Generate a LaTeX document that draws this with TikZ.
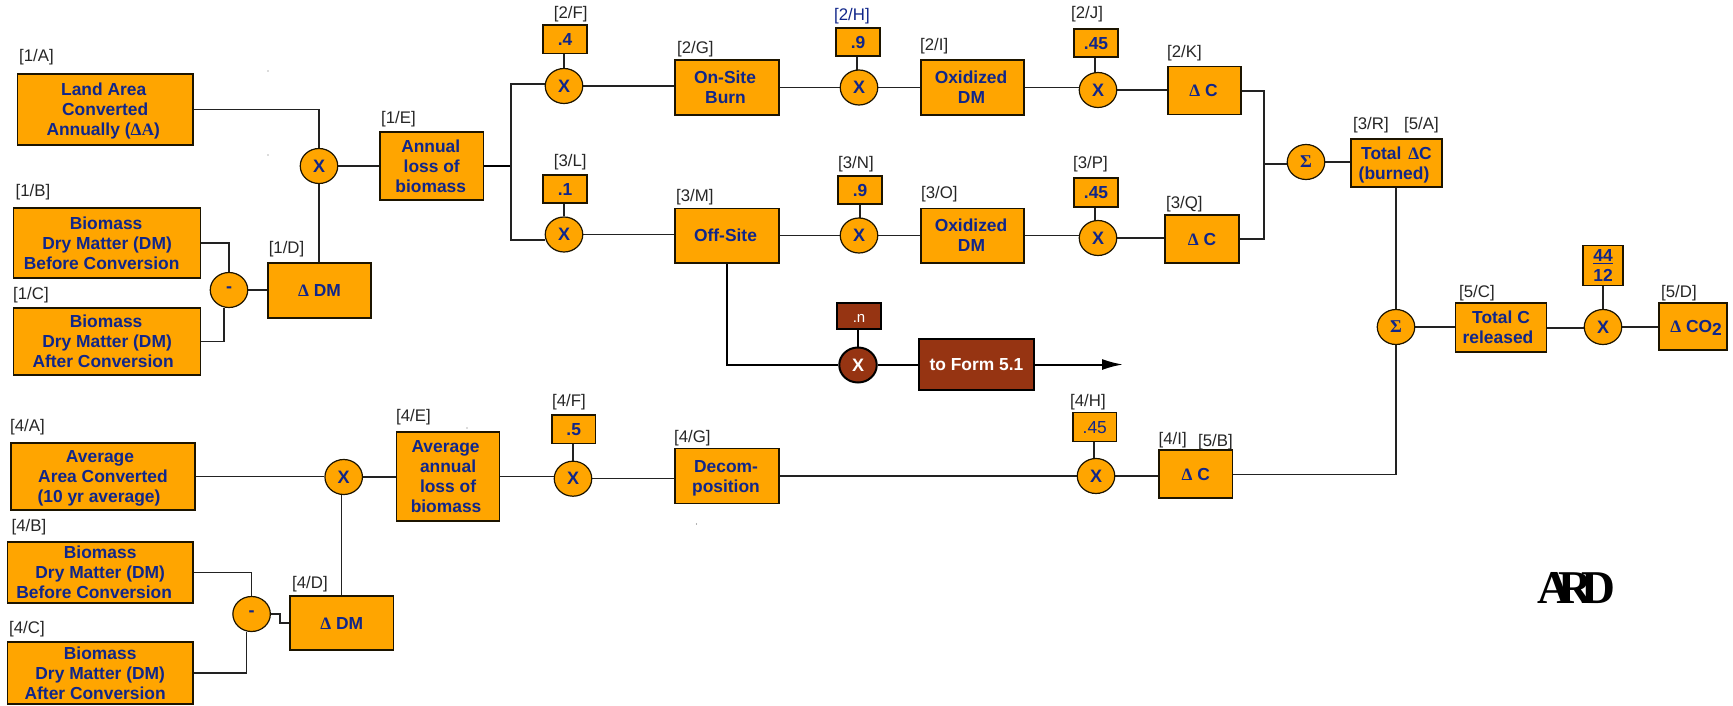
\documentclass[tikz,border=0pt]{standalone}
\usepackage{fontspec}
\setmainfont{Liberation Sans}
\newfontfamily\serifb{Liberation Serif}
\usetikzlibrary{shapes.geometric,arrows.meta,backgrounds}
\definecolor{orng}{HTML}{FFA500}
\definecolor{navy}{HTML}{10268A}
\definecolor{brn}{HTML}{963412}
\definecolor{edge}{HTML}{1C1400}
\definecolor{wire}{HTML}{222222}
\newcommand{\dl}{{\serifb\bfseries Δ}}
% line shifted left by half of #1 (pt)
\newcommand{\Ls}[2]{#2\hspace*{#1pt}}
% line shifted right by half of #1 (pt)
\newcommand{\Rs}[2]{\hspace*{#1pt}#2}
\tikzset{
  boxnode/.style={draw=edge,fill=orng,line width=1.2pt,rectangle,inner sep=0pt,align=center,text=navy,
    font=\fontsize{17.4}{20}\selectfont\bfseries},
  opnode/.style={draw=edge,fill=orng,line width=1.2pt,ellipse,inner sep=0pt,minimum width=37.5pt,minimum height=35pt,
    text=navy,font=\fontsize{18}{20}\selectfont\bfseries},
  brnbox/.style={boxnode,fill=brn,draw=black,line width=2pt,text=white},
  brnop/.style={opnode,fill=brn,draw=black,line width=2pt,text=white},
  tag/.style={anchor=west,inner sep=0pt,text=black!85,font=\fontsize{16.8}{18}\selectfont},
  wirel/.style={draw=wire,line width=1.2pt},
  wireb/.style={draw=black,line width=2pt}
}
% name, x1, y1, x2, y2, style, text
\newcommand{\bx}[7]{\pgfmathsetmacro{\bw}{#4-#2}\pgfmathsetmacro{\bh}{#5-#3}%
  \pgfmathsetmacro{\bcx}{(#2+#4)/2}\pgfmathsetmacro{\bcy}{(#3+#5)/2}%
  \node[#6,minimum width=\bw pt,minimum height=\bh pt] (#1) at (\bcx,\bcy) {\rule{0pt}{16pt}#7\rule[-3.6pt]{0pt}{3.6pt}};}
\newcommand{\opn}[5][opnode]{\node[#1] (#2) at (#3,#4) {#5};}
\newcommand{\lb}[4]{\node[tag] (#1) at (#2,#3) {#4};}
\begin{document}
\begin{tikzpicture}[x=1pt,y=-1pt]
\useasboundingbox (0,0) rectangle (1733,706);
% Form 1
\bx{a1}{17.4}{74}{193}{145}{boxnode}{\Ls{3}{Land Area}\\\Ls{8}{Converted}\\\Ls{4}{Annually ({\serifb\bfseries ΔA})}}
\bx{b1}{13.7}{208}{200.5}{278}{boxnode}{\Ls{2}{Biomass}\\\Ls{7}{Dry Matter (DM)}\\\Ls{11}{Before Conversion}}
\bx{c1}{13.7}{308}{200.5}{375}{boxnode}{\Ls{2}{Biomass}\\\Ls{7}{Dry Matter (DM)}\\\Ls{8}{After Conversion}}
\bx{d1}{268}{263}{371}{318}{boxnode}{\dl{} DM}
\bx{e1}{380}{132}{483.5}{200}{boxnode}{\Ls{2}{Annual}\\\Ls{2}{loss of}\\\Ls{2}{biomass}}
\opn{xa}{319}{166}{X}
\opn{ma}{229}{290}{-}
\lb{la}{19}{57}{[1/A]}\lb{lb}{15.5}{192}{[1/B]}\lb{lc}{13}{295}{[1/C]}\lb{ld}{268.6}{249}{[1/D]}\lb{le}{381}{119}{[1/E]}
% row 2
\bx{f2}{543}{25}{587}{53.5}{boxnode}{.4}
\opn{xf}{564}{86}{X}
\bx{g2}{675}{60}{779}{115}{boxnode}{\Ls{4}{On-Site}\\\Ls{3}{Burn}}
\bx{h2}{836}{28}{880}{56}{boxnode}{.9}
\opn{xh}{859}{87.5}{X}
\bx{i2}{921}{60}{1024}{115}{boxnode}{\Ls{3}{Oxidized}\\\Ls{2}{DM}}
\bx{j2}{1074}{29}{1118}{57}{boxnode}{.45}
\opn{xj}{1098}{90}{X}
\bx{k2}{1168}{66.5}{1241}{114.5}{boxnode}{\Ls{2}{\dl{} C}}
\lb{lf}{553.7}{14}{[2/F]}\lb{lg}{677}{49}{[2/G]}
\lb{lh}{834}{16}{\textcolor{navy}{[2/H]}}
\lb{li}{920}{46}{[2/I]}\lb{lj}{1071}{14}{[2/J]}\lb{lk}{1167}{53}{[2/K]}
% row 3
\bx{l3}{543}{175}{587}{203}{boxnode}{.1}
\opn{xl}{564}{234.5}{X}
\bx{m3}{675}{208.5}{779}{263}{boxnode}{\Ls{3}{Off-Site}}
\bx{n3}{838}{176}{882}{204}{boxnode}{.9}
\opn{xn}{859}{235.5}{X}
\bx{o3}{921}{208.5}{1024}{263}{boxnode}{\Ls{3}{Oxidized}\\\Ls{2}{DM}}
\bx{p3}{1074}{178}{1118}{207}{boxnode}{.45}
\opn{xp}{1098}{238}{X}
\bx{q3}{1165}{215}{1239}{263}{boxnode}{\dl{} C}
\lb{ll}{553.7}{162}{[3/L]}\lb{lm}{676}{197}{[3/M]}\lb{ln}{838}{164}{[3/N]}
\lb{lo}{921}{194}{[3/O]}\lb{lp}{1073}{164}{[3/P]}\lb{lq}{1166}{204}{[3/Q]}
% totals
\opn{sa}{1306}{162}{{\serifb Σ}}
\bx{r3}{1351}{139}{1442}{187}{boxnode}{Total\hspace{2pt} \dl{}C\\\Ls{5}{(burned)}}
\lb{lr}{1353}{125}{[3/R]}\lb{lsa}{1404}{125}{[5/A]}
\opn{sb}{1396}{327}{{\serifb Σ}}
\bx{c5}{1455.5}{303}{1546.5}{352}{boxnode}{Total C\\\Ls{6}{released}}
\opn{xc}{1603}{327}{X}
\bx{fr}{1583}{246}{1623}{285}{boxnode}{\underline{44}\\12}
\bx{d5}{1659}{303}{1727}{350}{boxnode}{\Rs{6}{\dl{} CO\raisebox{-3pt}{2}}}
\lb{lc5}{1459}{293}{[5/C]}\lb{ld5}{1661}{293}{[5/D]}
% brown branch
\bx{nb}{837}{303}{881}{329}{brnbox,font=\fontsize{15}{16}\selectfont}{.n}
\opn[brnop]{xb}{858}{365}{X}
\bx{form}{919}{339}{1034}{390}{brnbox}{to Form 5.1}
\coordinate (arrowend) at (1123,364.5);
% Form 4
\bx{a4}{11}{443}{195}{510}{boxnode}{\Ls{6}{Average}\\\Ls{10}{Area Converted}\\\Ls{8}{(10 yr average)}}
\bx{b4}{7.4}{542}{193}{603}{boxnode}{Biomass\\\Ls{8}{Dry Matter (DM)}\\\Ls{12}{Before Conversion}}
\bx{c4}{7.4}{642}{193}{704}{boxnode}{Biomass\\\Ls{8}{Dry Matter (DM)}\\\Ls{10}{After Conversion}}
\bx{d4}{290}{596}{393.6}{650}{boxnode}{\dl{} DM}
\bx{e4}{396.6}{432}{499.5}{521}{boxnode}{\Ls{5}{Average}\\\Ls{3}{annual}\\\Ls{3}{loss of}\\\Ls{4}{biomass}}
\opn{xd}{343.7}{477}{X}
\opn{md}{251.6}{614}{-}
\bx{f4}{552}{415}{595.5}{443.7}{boxnode}{.5}
\opn{xg}{573}{478.7}{X}
\bx{g4}{675}{448.7}{779}{503.7}{boxnode}{\Ls{2}{Decom-}\\\Ls{2}{position}}
\bx{h4}{1073}{412.7}{1116.5}{441.3}{boxnode,font=\fontsize{17.4}{20}\selectfont}{.45}
\opn{xi}{1096}{476}{X}
\bx{i4}{1159}{450}{1232.6}{498}{boxnode}{\dl{} C}
\lb{l4a}{10}{427}{[4/A]}\lb{l4b}{11.5}{527}{[4/B]}\lb{l4c}{9}{629}{[4/C]}\lb{l4d}{292}{584}{[4/D]}\lb{l4e}{396}{417}{[4/E]}
\lb{l4f}{552}{402}{[4/F]}\lb{l4g}{674}{438}{[4/G]}\lb{l4h}{1070}{402}{[4/H]}\lb{l4i}{1158.5}{440}{[4/I]}\lb{l5b}{1198}{442}{[5/B]}
% logo
\node[inner sep=0pt,text=black,font=\fontsize{47}{47}\selectfont\serifb\bfseries] (ard) at (1576,588.5) {A\kern-13pt R\kern-11pt D};
% specks
\fill[black!60] (268,71) circle (0.7pt) (268,155) circle (0.7pt) (696.5,524) circle (0.6pt) (467,428) circle (0.6pt);
\begin{scope}[on background layer]
\coordinate (ja) at (511,166);
\coordinate (jb) at (1264,164);
\draw[wirel] (a1.east) -| (xa.north);
\draw[wirel] (d1.north -| xa.south) -- (xa.south);
\draw[wirel] (xa.east) -- (e1.west |- xa.east);
\draw[wirel] (b1.east) -| (ma.north);
\draw[wirel] (c1.east) -| ([xshift=-5pt]ma.south);
\draw[wirel] (ma.east) -- (d1.west |- ma.east);
\draw[wireb] (e1.east) -- (ja);
\draw[wirel] (xf.west |- 0,84) -| (ja) |- (xl.west |- 0,240);
\draw[wirel] (xf.north |- f2.south) -- (xf.north);
\draw[wirel] (xf.east) -- (g2.west |- xf.east);
\draw[wirel] (g2.east |- xh.west) -- (xh.west);
\draw[wirel] (857,0 |- h2.south) -- (857,87);
\draw[wirel] (xh.east) -- (i2.west |- xh.east);
\draw[wirel] (i2.east |- xh.east) -- (xj.west |- xh.east);
\draw[wirel] (1095,0 |- j2.south) -- (1095,90);
\draw[wirel] (xj.east) -- (k2.west |- xj.east);
\draw[wirel] (xl.north |- l3.south) -- (xl.north);
\draw[wirel] (xl.east) -- (m3.west |- xl.east);
\draw[wirel] (m3.east |- xn.west) -- (xn.west);
\draw[wirel] (860,0 |- n3.south) -- (860,235);
\draw[wirel] (xn.east) -- (o3.west |- xn.east);
\draw[wirel] (o3.east |- xn.east) -- (xp.west |- xn.east);
\draw[wirel] (1095,0 |- p3.south) -- (1095,238);
\draw[wirel] (xp.east) -- (q3.west |- xp.east);
\draw[wirel] (k2.east |- 0,91) -| (jb) |- (q3.east |- 0,239);
\draw[wirel] (jb) -- (sa.west |- jb);
\draw[wirel] (sa.east) -- (r3.west |- sa.east);
\draw[wirel] (sb.north |- r3.south) -- (sb.north);
\draw[wirel] (sb.east) -- (c5.west |- sb.east);
\draw[wirel] (c5.east |- 0,328) -- (xc.west |- 0,328);
\draw[wirel] (xc.north |- fr.south) -- (xc.north);
\draw[wirel] (xc.east) -- (d5.west |- xc.east);
% brown
\draw[wireb] (m3.south) |- (xb.west);
\draw[wireb] (xb.north |- nb.south) -- (xb.north);
\draw[wireb] (xb.east) -- (form.west |- xb.east);
\draw[wireb,-{Latex[length=21pt,width=11pt]}] (form.east) -- (arrowend);
% form 4
\draw[wirel] (a4.east) -- (xd.west |- a4.east);
\draw[wirel] (xd.east) -- (e4.west |- xd.east);
\draw[wirel] (341.5,0 |- d4.north) -- (341.5,477);
\draw[wirel] (b4.east) -| (md.north);
\draw[wirel] (c4.east) -| ([xshift=-5pt]md.south);
\draw[wirel] (md.east) -- (280,614) |- (d4.west);
\draw[wirel] (e4.east) -- (xg.west |- e4.east);
\draw[wirel] (xg.north |- f4.south) -- (xg.north);
\draw[wirel] (xg.east) -- (g4.west |- xg.east);
\draw[wirel] (g4.east |- xi.west) -- (xi.west);
\draw[wirel] (1094,0 |- h4.south) -- (1094,476);
\draw[wirel] (xi.east) -- (i4.west |- xi.east);
\draw[wirel] (i4.east |- 0,474.7) -| (sb.south);
\end{scope}
\end{tikzpicture}
\end{document}
